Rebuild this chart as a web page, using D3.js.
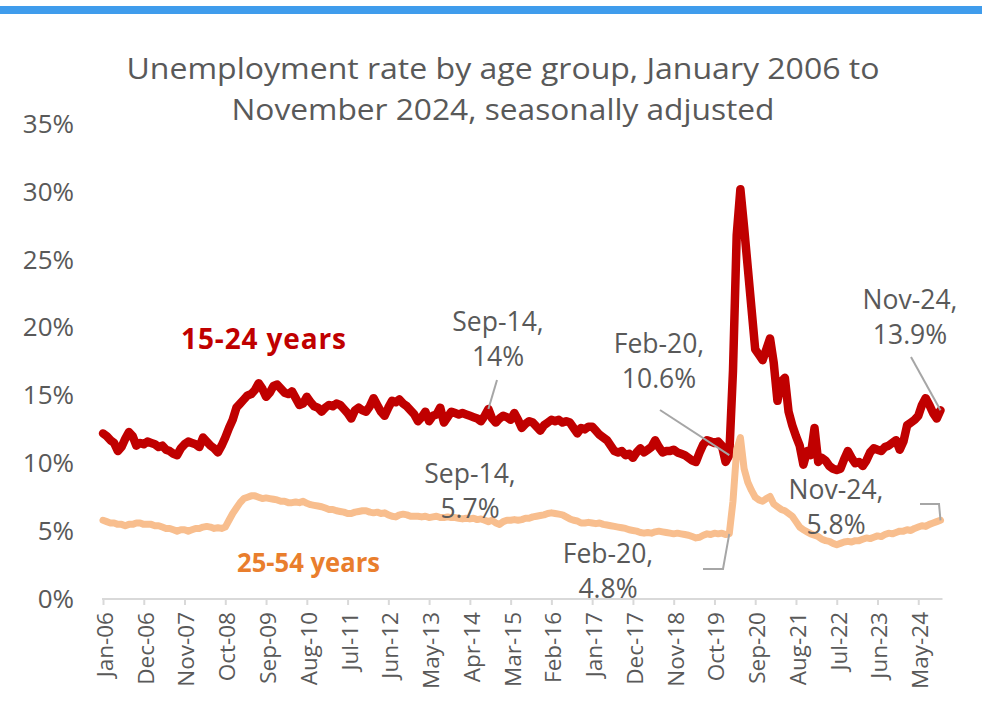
<!DOCTYPE html>
<html>
<head>
<meta charset="utf-8">
<script src="https://cdn.jsdelivr.net/npm/d3@7"></script>
<style>
  html, body { margin: 0; padding: 0; background: #ffffff; }
  svg { display: block; }
  text { font-family: "Open Sans", "Noto Sans", sans-serif; }
</style>
</head>
<body>
<svg id="chart" width="982" height="723"></svg>
<script>
// Monthly categories, January 2006 to November 2024
const months = d3.timeMonth.range(new Date(2006, 0, 1), new Date(2024, 11, 1));
const categories = months.map(d3.timeFormat("%b-%y"));

// Every 11th month carries a tick label
const tickLabels = ["Jan-06", "Dec-06", "Nov-07", "Oct-08", "Sep-09", "Aug-10", "Jul-11",
  "Jun-12", "May-13", "Apr-14", "Mar-15", "Feb-16", "Jan-17", "Dec-17", "Nov-18",
  "Oct-19", "Sep-20", "Aug-21", "Jul-22", "Jun-23", "May-24"];

const yTicks = [0, 5, 10, 15, 20, 25, 30, 35];

// Unemployment rate, 15-24 years (%)
const youth = [
  12.2, 12.0, 11.7, 11.5, 10.9, 11.2, 11.8, 12.3, 12.0, 11.3, 11.5, 11.4, // 2006
  11.6, 11.5, 11.4, 11.2, 11.3, 11.0, 10.9, 10.7, 10.6, 11.1, 11.4, 11.6, // 2007
  11.5, 11.4, 11.2, 11.9, 11.6, 11.3, 11.1, 10.8, 11.3, 11.9, 12.6, 13.2, // 2008
  14.1, 14.4, 14.7, 15.0, 15.1, 15.4, 15.9, 15.5, 14.9, 15.2, 15.7, 15.8, // 2009
  15.5, 15.2, 15.1, 15.3, 14.8, 14.3, 14.4, 14.9, 14.5, 14.2, 14.1, 13.8, // 2010
  14.1, 14.3, 14.2, 14.4, 14.3, 14.0, 13.7, 13.3, 13.9, 14.1, 13.9, 13.8, // 2011
  14.2, 14.8, 14.3, 13.8, 13.5, 14.1, 14.6, 14.5, 14.7, 14.4, 14.2, 13.9, // 2012
  13.6, 13.1, 13.4, 13.8, 13.1, 13.5, 13.6, 14.1, 13.0, 13.4, 13.8, 13.7, // 2013
  13.6, 13.7, 13.6, 13.5, 13.4, 13.3, 13.1, 13.5, 14.0, 13.3, 13.0, 13.3, // 2014
  13.5, 13.4, 13.2, 13.7, 13.2, 12.6, 12.9, 13.1, 13.0, 12.7, 12.4, 12.8, // 2015
  13.0, 13.2, 13.1, 13.2, 13.0, 13.1, 13.0, 12.6, 12.2, 12.6, 12.5, 12.7, // 2016
  12.7, 12.4, 12.1, 11.9, 11.7, 11.3, 10.9, 10.8, 10.9, 10.6, 10.7, 10.4, // 2017
  10.8, 11.1, 10.8, 11.0, 11.2, 11.7, 11.2, 10.8, 10.9, 10.9, 11.0, 10.8, // 2018
  10.7, 10.6, 10.4, 10.2, 10.1, 10.8, 11.4, 11.7, 11.6, 11.5, 11.6, 11.3, // 2019
  10.1, 10.6, 16.8, 26.8, 30.2, 27.4, 24.4, 21.4, 18.4, 18.0, 17.6, 18.4, // 2020
  19.2, 17.4, 14.6, 16.0, 16.3, 13.8, 12.8, 12.0, 11.3, 9.9, 10.9, 10.6,  // 2021
  12.6, 10.1, 10.4, 10.2, 9.8, 9.6, 9.5, 9.6, 10.3, 10.9, 10.4, 10.0,     // 2022
  10.1, 9.8, 10.2, 10.8, 11.1, 11.0, 10.9, 11.2, 11.3, 11.5, 11.7, 11.0,  // 2023
  11.6, 12.8, 13.0, 13.2, 13.5, 14.3, 14.8, 14.3, 13.7, 13.3, 13.9        // 2024
];

// Unemployment rate, 25-54 years (%)
const coreAge = [
  5.8, 5.7, 5.6, 5.6, 5.5, 5.5, 5.4, 5.5, 5.5, 5.6, 5.6, 5.5,             // 2006
  5.5, 5.5, 5.4, 5.4, 5.3, 5.2, 5.2, 5.1, 5.0, 5.1, 5.1, 5.0,             // 2007
  5.1, 5.2, 5.2, 5.3, 5.35, 5.3, 5.2, 5.25, 5.2, 5.3, 5.8, 6.3,           // 2008
  6.7, 7.1, 7.4, 7.5, 7.6, 7.6, 7.5, 7.4, 7.45, 7.4, 7.35, 7.3,           // 2009
  7.2, 7.2, 7.1, 7.1, 7.15, 7.1, 7.2, 7.05, 6.95, 6.9, 6.85, 6.8,         // 2010
  6.7, 6.6, 6.6, 6.5, 6.45, 6.4, 6.3, 6.3, 6.4, 6.45, 6.5, 6.5,           // 2011
  6.4, 6.35, 6.4, 6.3, 6.35, 6.2, 6.1, 6.05, 6.2, 6.25, 6.2, 6.1,         // 2012
  6.1, 6.1, 6.05, 6.1, 6.0, 6.05, 6.1, 6.0, 6.0, 6.05, 6.0, 6.0,          // 2013
  5.95, 5.9, 5.95, 5.9, 5.95, 5.85, 5.9, 5.8, 5.7, 5.8, 5.6, 5.5,         // 2014
  5.7, 5.8, 5.8, 5.85, 5.8, 5.85, 5.95, 5.95, 6.05, 6.1, 6.15, 6.2,       // 2015
  6.3, 6.35, 6.3, 6.25, 6.2, 6.05, 5.9, 5.8, 5.75, 5.6, 5.6, 5.65,        // 2016
  5.6, 5.55, 5.6, 5.5, 5.45, 5.4, 5.35, 5.3, 5.25, 5.2, 5.1, 5.05,        // 2017
  5.0, 4.9, 4.85, 4.9, 4.85, 4.95, 5.0, 4.95, 4.9, 4.85, 4.8, 4.85,       // 2018
  4.8, 4.75, 4.7, 4.6, 4.5, 4.55, 4.7, 4.8, 4.75, 4.85, 4.8, 4.85,        // 2019
  4.75, 4.8, 7.2, 11.0, 11.9, 9.6, 8.6, 8.0, 7.5, 7.3, 7.2, 7.4,          // 2020
  7.55, 7.0, 6.8, 6.6, 6.5, 6.3, 6.1, 5.7, 5.3, 5.1, 4.95, 4.8,           // 2021
  4.7, 4.6, 4.4, 4.3, 4.25, 4.1, 4.0, 4.1, 4.2, 4.25, 4.2, 4.3,           // 2022
  4.3, 4.4, 4.5, 4.45, 4.55, 4.65, 4.6, 4.75, 4.85, 4.8, 4.9, 5.0,        // 2023
  5.0, 5.1, 5.05, 5.2, 5.3, 5.4, 5.35, 5.5, 5.6, 5.7, 5.8                 // 2024
];

// Callouts: text lines plus the month/series they point at
const callouts = [
  { lines: ["Sep-14,", "14%"],   month: "Sep-14", series: youth,   x: 498, y: 331, from: [[497, 380]] },
  { lines: ["Feb-20,", "10.6%"], month: "Feb-20", series: youth,   x: 659, y: 353, from: [[660, 410]] },
  { lines: ["Nov-24,", "13.9%"], month: "Nov-24", series: youth,   x: 910, y: 309, from: [[911, 357]] },
  { lines: ["Sep-14,", "5.7%"],  month: "Sep-14", series: coreAge, x: 470, y: 483, from: null },
  { lines: ["Feb-20,", "4.8%"],  month: "Feb-20", series: coreAge, x: 608, y: 563, from: [[703, 569], [723, 569]] },
  { lines: ["Nov-24,", "5.8%"],  month: "Nov-24", series: coreAge, x: 836, y: 499, from: [[920, 504], [939, 504]] }
];

const svg = d3.select("#chart");

// Blue band across the top
svg.append("rect").attr("x", 0).attr("y", 6).attr("width", 982).attr("height", 8).attr("fill", "#3F9CEC");

// Title, two centred lines
const titleLines = [
  { text: "Unemployment rate by age group, January 2006 to", y: 79, width: 753 },
  { text: "November 2024, seasonally adjusted", y: 120, width: 543 }
];
titleLines.forEach(l => {
  svg.append("text").attr("x", 503).attr("y", l.y).attr("text-anchor", "middle")
    .attr("fill", "#595959").attr("font-size", 30)
    .attr("textLength", l.width).attr("lengthAdjust", "spacingAndGlyphs")
    .text(l.text);
});

const x = d3.scalePoint().domain(categories).range([103, 940.5]);
const y = d3.scaleLinear().domain([0, 35]).range([599, 124]);

// Y axis labels (no axis line)
const yAxis = svg.append("g").attr("transform", "translate(74,0)")
  .call(d3.axisLeft(y).tickValues(yTicks).tickFormat(d => d + "%").tickSize(0).tickPadding(0));
yAxis.select(".domain").remove();
yAxis.selectAll("text").attr("fill", "#595959").attr("font-size", 26)
  .attr("font-family", '"Open Sans", sans-serif');

// X axis
const xAxis = svg.append("g").attr("transform", `translate(0,${y(0)})`)
  .call(d3.axisBottom(x).tickValues(tickLabels).tickSizeInner(6).tickSizeOuter(0));
xAxis.select(".domain").attr("stroke", "#D9D9D9").attr("stroke-width", 2)
  .attr("d", `M${x(categories[0]) - 1},0H${x(categories[categories.length - 1]) + 2}`);
xAxis.selectAll(".tick line").attr("stroke", "#D9D9D9").attr("stroke-width", 2);
xAxis.selectAll(".tick text")
  .attr("fill", "#595959").attr("font-size", 22.5).attr("font-family", '"Open Sans", sans-serif')
  .attr("text-anchor", "end")
  .attr("transform", "rotate(-90)")
  .attr("x", -13).attr("y", 0).attr("dy", "0.42em");

// Lines
const line = series => d3.line()
  .x((d, i) => x(categories[i]))
  .y(d => y(d))(series);

svg.append("path").attr("d", line(youth))
  .attr("fill", "none").attr("stroke", "#C00000").attr("stroke-width", 8.5)
  .attr("stroke-linejoin", "round").attr("stroke-linecap", "round");
svg.append("path").attr("d", line(coreAge))
  .attr("fill", "none").attr("stroke", "#F8BE8E").attr("stroke-width", 7)
  .attr("stroke-linejoin", "round").attr("stroke-linecap", "round");

// Series labels
svg.append("text").attr("x", 181).attr("y", 349).attr("font-size", 28).attr("font-weight", 700)
  .attr("fill", "#C00000").attr("textLength", 165).text("15-24 years");
svg.append("text").attr("x", 237).attr("y", 572).attr("font-size", 27).attr("font-weight", 700)
  .attr("fill", "#E97E2D").attr("textLength", 143).attr("lengthAdjust", "spacingAndGlyphs").text("25-54 years");

// Callouts
callouts.forEach(c => {
  const idx = categories.indexOf(c.month);
  const px = x(c.month), py = y(c.series[idx]);
  if (c.from) {
    const pts = c.from.concat([[px, py]]);
    svg.append("path").attr("d", d3.line()(pts))
      .attr("fill", "none").attr("stroke", "#A6A6A6").attr("stroke-width", 2);
  }
  const t = svg.append("text").attr("text-anchor", "middle").attr("fill", "#595959").attr("font-size", 26.5);
  c.lines.forEach((s, k) => t.append("tspan").attr("x", c.x).attr("y", c.y + k * 35).text(s));
});
</script>
</body>
</html>
